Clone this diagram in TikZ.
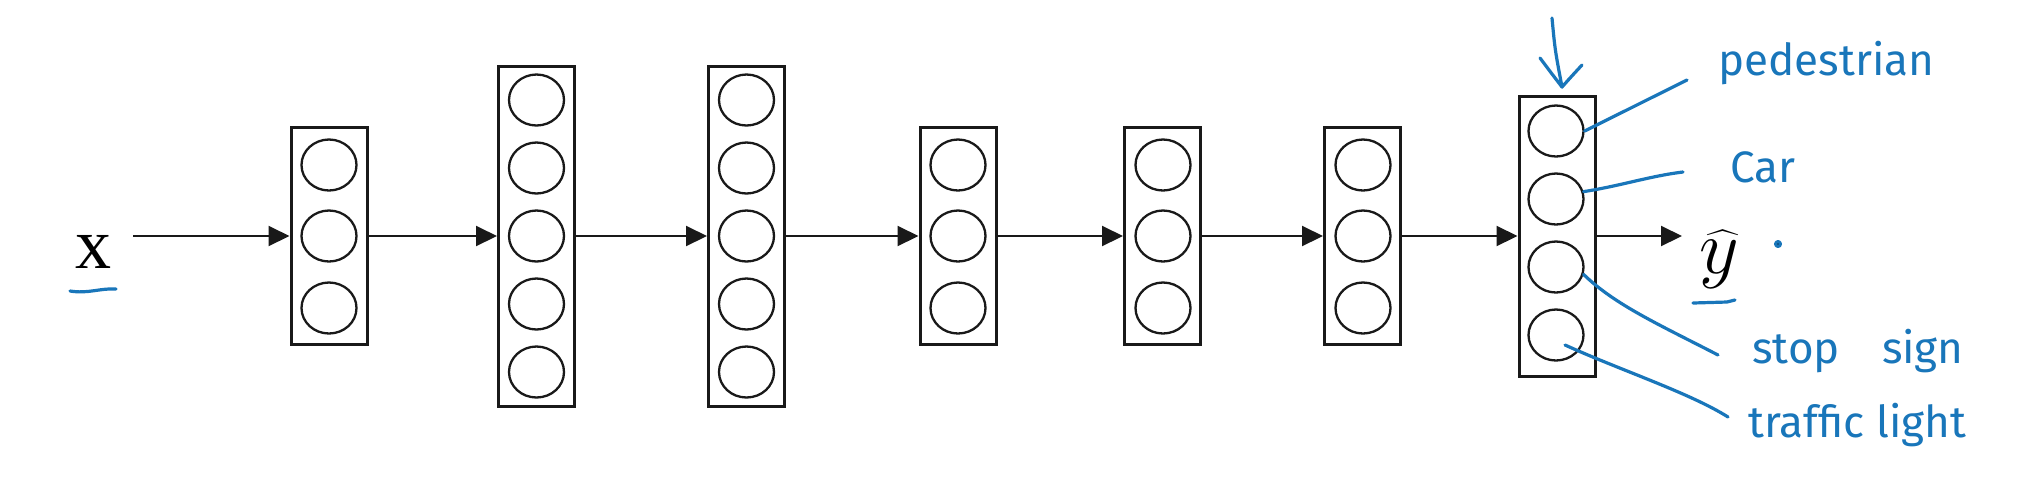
\documentclass[tikz,border=0pt]{standalone}
\usepackage{fontspec}
\usetikzlibrary{arrows.meta,shapes.geometric,calc}
\newfontfamily\handfont{Fira Sans}
\newfontfamily\serifx{Liberation Serif}
\definecolor{pen}{RGB}{25,118,186}
\definecolor{ink}{RGB}{25,25,25}
\begin{document}
\begin{tikzpicture}[x=0.5pt,y=-0.5pt,
  layer/.style={rectangle,draw=ink,line width=1.5pt,minimum width=38pt,inner sep=0pt},
  unit/.style={ellipse,draw=ink,line width=1.15pt,minimum width=27.5pt,minimum height=25.5pt,inner sep=0pt},
  flow/.style={draw=ink,line width=1pt,-{Triangle[length=10.5pt,width=10pt]}},
  pen/.style={draw=pen,line width=1.6pt,line cap=round,line join=round},
  hand/.style={text=pen,font=\handfont\fontsize{22}{22}\selectfont,inner sep=0pt,anchor=base west}]
\fill[white] (0,0) rectangle (2034,484);
\useasboundingbox (0,0) rectangle (2034,484);

% layers
\node[layer,minimum height=108.5pt] (b1) at (329,236) {};
\node[layer,minimum height=170pt] (b2) at (536.5,236) {};
\node[layer,minimum height=170pt] (b3) at (746.5,236) {};
\node[layer,minimum height=108.5pt] (b4) at (958,236) {};
\node[layer,minimum height=108.5pt] (b5) at (1162.5,236) {};
\node[layer,minimum height=108.5pt] (b6) at (1362.5,236) {};
\node[layer,minimum height=140pt] (b7) at (1557,236) {};

% units
\foreach \i/\yy in {a/165,b/236,c/308}{
  \node[unit] (c1\i) at (329,\yy) {};
  \node[unit] (c4\i) at (958,\yy) {};
  \node[unit] (c5\i) at (1163,\yy) {};
  \node[unit] (c6\i) at (1363,\yy) {};
}
\foreach \i/\yy in {a/100,b/168,c/236,d/304,e/372}{
  \node[unit] (c2\i) at (536.5,\yy) {};
  \node[unit] (c3\i) at (746.5,\yy) {};
}
\foreach \i/\yy in {a/131,b/199,c/267,d/335}{
  \node[unit] (c7\i) at (1556,\yy) {};
}

% input / output
\node[font=\serifx\fontsize{36}{36}\selectfont,inner sep=0pt,anchor=base] (xlab) at (93.5,268) {x};
\node[inner sep=0pt,anchor=base] (ylab) at (1719,273) {\scalebox{1.55}{\fontsize{24.88}{25}\selectfont$\widehat{y}$}};
\coordinate (xin) at (133,236);
\coordinate (yout) at (1682,236);

\draw[flow] (xin) -- (b1.west);
\draw[flow] (b1.east) -- (b2.west);
\draw[flow] (b2.east) -- (b3.west);
\draw[flow] (b3.east) -- (b4.west);
\draw[flow] (b4.east) -- (b5.west);
\draw[flow] (b5.east) -- (b6.west);
\draw[flow] (b6.east) -- (b7.west);
\draw[flow] (b7.east) -- (yout);

% handwritten annotations
\node[hand] (lped) at (1718,75) {pedestrian};
\node[hand] (lcar) at (1730,182) {Car};
\node[hand] (lstop) at (1752,363) {stop\hspace{21pt}sign};
\node[hand] (ltraf) at (1748,437) {traffic light};

\coordinate (pe) at (1687,80);
\coordinate (ce) at (1683,172);
\coordinate (se) at (1718,355);
\coordinate (te) at (1728,417);
\draw[pen] (c7a.east) -- (pe);
\draw[pen] (c7b.15) .. controls (1620,186) and (1650,176) .. (ce);
\draw[pen] (c7c.-15) .. controls (1615,305) and (1660,325) .. (se);
\draw[pen] ($(c7d.center)+(9,10)$) .. controls (1620,370) and (1690,393) .. (te);

% pointer arrow above output layer
\coordinate (atail) at (1552,18);
\coordinate (atip) at (1562,87);
\draw[pen] (atail) .. controls (1555,50) .. (atip);
\draw[pen] (1540,58) .. controls (1552,74) .. (atip) .. controls (1570,78) .. (1582,65);

% underlines and dot
\draw[pen] (70,291) .. controls (88,294) and (100,288) .. (116,289);
\draw[pen] (1693,303) -- (1727,302) -- (1735,300);
\fill[pen] (1778,244) circle[radius=1.2pt];
\end{tikzpicture}
\end{document}
